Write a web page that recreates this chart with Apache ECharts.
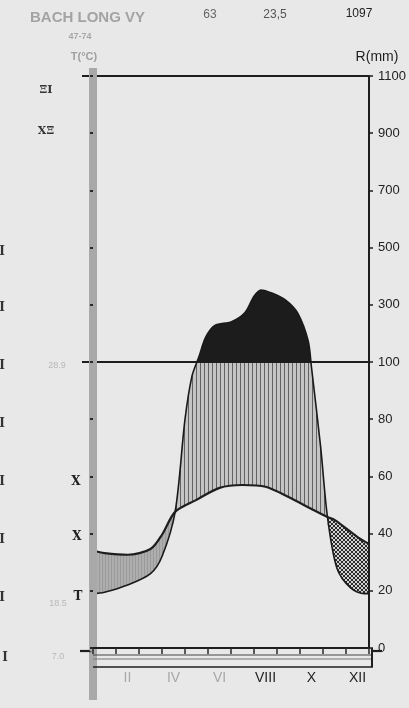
<!DOCTYPE html>
<html><head><meta charset="utf-8">
<script src="https://cdn.jsdelivr.net/npm/echarts@6/dist/echarts.min.js"></script>
<style>html,body{margin:0;padding:0;background:#e8e8e8;}#c{width:409px;height:708px;}</style>
</head><body><div id="c"></div>
<script>
// ---- data ----
const months = ['I','II','III','IV','V','VI','VII','VIII','IX','X','XI','XII'];
const station = 'BACH LONG VY';
const headerValues = ['63', '23,5', '1097'];
const period = '47-74';
// temperature (°C) at month positions (1 = middle of January)
const tempPos = [0.5, 1, 2, 3, 3.5, 4.07, 5, 6, 7, 8, 9, 10, 10.69, 11, 12, 12.5];
const tempC   = [17.0, 16.6, 16.3, 17.3, 19.8, 23.8, 25.9, 28.0, 28.5, 28.2, 26.4, 24.3, 22.9, 22.4, 19.4, 18.2];
// precipitation (mm) at month positions
const precipPos = [0.5, 1, 2, 3, 3.5, 4.07, 4.5, 4.8, 5.1, 5.4, 5.8, 6.5, 7.1, 7.5, 7.8, 8.3, 8.9, 9.4, 9.85, 10.0, 10.4, 10.69, 11.1, 11.7, 12.3, 12.5];
const precipMm  = [19, 19.5, 22, 26, 32, 47.6, 80, 95, 117, 187, 228, 240, 272, 330, 352, 340, 315, 271, 175, 98, 70, 46, 28, 21, 19, 19];
const dryLeftEnd = 4.07, dryRightStart = 10.69; // months where the curves cross
const precipTickLabels = ['0','20','40','60','80','100','300','500','700','900','1100'];

// R axis: linear to 100 mm, 1/10 scale above
function toAxis(mm){ return mm <= 100 ? mm : 100 + (mm - 100) / 10; }

const tempData = tempPos.map((m,i)=>[m, tempC[i]]);
const precipData = precipPos.map((m,i)=>[m, toAxis(precipMm[i])]);
const tempL = tempData.filter(d=>d[0] <= dryLeftEnd);
const tempR = tempData.filter(d=>d[0] >= dryRightStart);
const precL = precipData.filter(d=>d[0] <= dryLeftEnd);
const precR = precipData.filter(d=>d[0] >= dryRightStart);
const crossL = precipData.find(d=>d[0] === dryLeftEnd);
const crossR = precipData.find(d=>d[0] === dryRightStart);

const BG = '#e8e8e8';
function pattern(w,h,draw){const c=document.createElement('canvas');c.width=w;c.height=h;const g=c.getContext('2d');draw(g,w,h);return {image:c,repeat:'repeat'};}
const hatch = pattern(4,4,(g,w,h)=>{g.fillStyle='#c4c4c4';g.fillRect(0,0,w,h);g.fillStyle='#626262';g.fillRect(0,0,1,h);});
const grayFill = pattern(3,3,(g,w,h)=>{g.fillStyle='#aeaeae';g.fillRect(0,0,w,h);g.fillStyle='#9a9a9a';g.fillRect(0,0,1,h);});
const dots = pattern(4,4,(g,w,h)=>{g.fillStyle='#d2d2d2';g.fillRect(0,0,w,h);g.fillStyle='#2a2a2a';for(let i=0;i<4;i++){g.fillRect(i,i,1,1);g.fillRect(3-i,i,1,1);}});

const chart = echarts.init(document.getElementById('c'), null, {renderer:'canvas'});
const common = {type:'line', xAxisIndex:1, smooth:0.3, showSymbol:false, silent:true};
const noLine = {width:0, opacity:0};

chart.setOption({
  animation:false,
  backgroundColor: BG,
  grid:{left:93, right:37, top:76, bottom:60},
  xAxis:[
    {type:'category', data:months, position:'bottom', offset:3, boundaryGap:true, z:10,
     axisLine:{lineStyle:{color:'#1e1e1e', width:2.2}},
     axisTick:{show:true, interval:0, length:6, lineStyle:{color:'#2a2a2a', width:1.5}},
     axisLabel:{interval:(i)=>i%2===1, margin:20, fontSize:14, fontFamily:'Liberation Sans, Arial, sans-serif',
       color:(v,i)=> (['II','IV','VI'].indexOf(v)>=0 ? '#a8a8a8' : '#1e1e1e')},
     splitLine:{show:false}},
    {type:'value', min:0.5, max:12.5, show:false, splitLine:{show:false}}
  ],
  yAxis:[
    {type:'value', min:0, max:100, interval:10, position:'left', z:10,
     axisLine:{show:true, lineStyle:{color:'#a9a9a9', width:8}},
     axisTick:{show:true, length:3, lineStyle:{color:'#2a2a2a', width:2}},
     axisLabel:{show:false}, splitLine:{show:false}},
    {type:'value', min:0, max:200, interval:20, position:'right', z:10,
     axisLine:{show:true, lineStyle:{color:'#1e1e1e', width:2}},
     axisTick:{show:true, length:4, lineStyle:{color:'#1e1e1e', width:1.5}},
     axisLabel:{margin:9, align:'left', fontSize:13, color:'#222', fontFamily:'Liberation Sans, Arial, sans-serif',
       formatter:(v,i)=>precipTickLabels[i]},
     splitLine:{show:false}}
  ],
  visualMap:{type:'piecewise', show:false, seriesIndex:6, dimension:1,
    pieces:[{gt:100, lte:1000, color:'#1c1c1c'}], outOfRange:{color:'rgba(0,0,0,0)'}},
  series:[
    Object.assign({}, common, {name:'precipHatch', yAxisIndex:1, data:precipData, z:2, lineStyle:noLine, areaStyle:{color:hatch, opacity:1}}),
    Object.assign({}, common, {name:'tempMask', yAxisIndex:0, data:tempData, z:3, lineStyle:noLine, areaStyle:{color:BG, opacity:1}}),
    Object.assign({}, common, {name:'dryLeft', yAxisIndex:0, data:tempL, z:4, lineStyle:noLine, areaStyle:{color:grayFill, opacity:1}}),
    Object.assign({}, common, {name:'dryRight', yAxisIndex:0, data:tempR, z:4, lineStyle:noLine, areaStyle:{color:dots, opacity:1}}),
    Object.assign({}, common, {name:'maskL', yAxisIndex:1, data:precL, z:5, lineStyle:noLine, areaStyle:{color:BG, opacity:1}}),
    Object.assign({}, common, {name:'maskR', yAxisIndex:1, data:precR, z:5, lineStyle:noLine, areaStyle:{color:BG, opacity:1}}),
    Object.assign({}, common, {name:'precipWet', yAxisIndex:1, data:precipData, z:6, lineStyle:noLine, areaStyle:{opacity:1},
      markLine:{silent:true, symbol:['none','none'], label:{show:false}, lineStyle:{color:BG, width:2.5, type:'solid', opacity:1},
        data:[[{coord:[crossL[0],0]},{coord:[crossL[0],crossL[1]*0.93]}],[{coord:[crossR[0],0]},{coord:[crossR[0],crossR[1]*0.93]}]]}}),
    Object.assign({}, common, {name:'Temperature', yAxisIndex:0, data:tempData, z:7, lineStyle:{color:'#1e1e1e', width:2.2}}),
    Object.assign({}, common, {name:'Precipitation', yAxisIndex:1, data:precipData, z:7, lineStyle:{color:'#1a1a1a', width:1.6},
      markLine:{silent:true, symbol:['none','none'], label:{show:false}, lineStyle:{color:'#1e1e1e', width:2, type:'solid'},
        data:[{yAxis:100},{yAxis:200}]}})
  ],
  graphic:[
    {type:'text', left:30, top:10, style:{text:station, font:'bold 15px Liberation Sans, Arial', fill:'#a3a3a3'}},
    {type:'text', x:210, y:15, style:{text:headerValues[0], font:'12px Liberation Sans, Arial', fill:'#666', align:'center', verticalAlign:'middle'}},
    {type:'text', x:275, y:15, style:{text:headerValues[1], font:'12px Liberation Sans, Arial', fill:'#555', align:'center', verticalAlign:'middle'}},
    {type:'text', x:359, y:14, style:{text:headerValues[2], font:'12px Liberation Sans, Arial', fill:'#222', align:'center', verticalAlign:'middle'}},
    {type:'text', x:80, y:37, style:{text:period, font:'bold 9px Liberation Sans, Arial', fill:'#a8a8a8', align:'center', verticalAlign:'middle'}},
    {type:'text', x:84, y:57, style:{text:'T(°C)', font:'bold 11px Liberation Sans, Arial', fill:'#a0a0a0', align:'center', verticalAlign:'middle'}},
    {type:'text', x:377, y:57, style:{text:'R(mm)', font:'14px Liberation Sans, Arial', fill:'#1e1e1e', align:'center', verticalAlign:'middle'}},
    // left bar extensions and bottom frame
    {type:'rect', shape:{x:89, y:68, width:8, height:8}, style:{fill:'#a9a9a9'}},
    {type:'rect', shape:{x:89, y:648, width:8, height:52}, style:{fill:'#a9a9a9'}},
    {type:'line', shape:{x1:80, y1:651, x2:93, y2:651}, style:{stroke:'#1e1e1e', lineWidth:2.2}},
    {type:'line', shape:{x1:372, y1:651, x2:382, y2:651}, style:{stroke:'#1e1e1e', lineWidth:2.2}},
    {type:'line', shape:{x1:82, y1:76, x2:93, y2:76}, style:{stroke:'#1e1e1e', lineWidth:2}},
    {type:'line', shape:{x1:82, y1:362, x2:93, y2:362}, style:{stroke:'#1e1e1e', lineWidth:2}},
    {type:'line', shape:{x1:93, y1:655, x2:372, y2:655}, style:{stroke:'#444', lineWidth:1}},
    {type:'line', shape:{x1:93, y1:659, x2:372, y2:659}, style:{stroke:'#777', lineWidth:1}},
    {type:'line', shape:{x1:93, y1:667, x2:373, y2:667}, style:{stroke:'#1e1e1e', lineWidth:1.5}},
    {type:'line', shape:{x1:372, y1:648, x2:372, y2:667}, style:{stroke:'#1e1e1e', lineWidth:2}},
    // left side marks
    {type:'text', x:46, y:90, style:{text:'ΞI', font:'bold 11px DejaVu Serif', fill:'#333', align:'center', verticalAlign:'middle'}},
    {type:'text', x:46, y:131, style:{text:'XΞ', font:'bold 11px DejaVu Serif', fill:'#333', align:'center', verticalAlign:'middle'}},
    {type:'text', x:76, y:482, style:{text:'X', font:'bold 12px DejaVu Serif', fill:'#222', align:'center', verticalAlign:'middle'}},
    {type:'text', x:77, y:537, style:{text:'X', font:'bold 12px DejaVu Serif', fill:'#222', align:'center', verticalAlign:'middle'}},
    {type:'text', x:78, y:597, style:{text:'T', font:'bold 12px DejaVu Serif', fill:'#222', align:'center', verticalAlign:'middle'}},
    {type:'text', x:57, y:366, style:{text:'28.9', font:'9px Liberation Sans, Arial', fill:'#b8b8b8', align:'center', verticalAlign:'middle'}},
    {type:'text', x:58, y:604, style:{text:'18.5', font:'9px Liberation Sans, Arial', fill:'#b8b8b8', align:'center', verticalAlign:'middle'}},
    {type:'text', x:58, y:657, style:{text:'7.0', font:'9px Liberation Sans, Arial', fill:'#b8b8b8', align:'center', verticalAlign:'middle'}},
    {type:'text', x:2, y:252, style:{text:'I', font:'bold 12px DejaVu Serif', fill:'#333', align:'center', verticalAlign:'middle'}},
    {type:'text', x:2, y:308, style:{text:'I', font:'bold 12px DejaVu Serif', fill:'#333', align:'center', verticalAlign:'middle'}},
    {type:'text', x:2, y:366, style:{text:'I', font:'bold 12px DejaVu Serif', fill:'#333', align:'center', verticalAlign:'middle'}},
    {type:'text', x:2, y:424, style:{text:'I', font:'bold 12px DejaVu Serif', fill:'#333', align:'center', verticalAlign:'middle'}},
    {type:'text', x:2, y:482, style:{text:'I', font:'bold 12px DejaVu Serif', fill:'#333', align:'center', verticalAlign:'middle'}},
    {type:'text', x:2, y:540, style:{text:'I', font:'bold 12px DejaVu Serif', fill:'#333', align:'center', verticalAlign:'middle'}},
    {type:'text', x:2, y:598, style:{text:'I', font:'bold 12px DejaVu Serif', fill:'#333', align:'center', verticalAlign:'middle'}},
    {type:'text', x:5, y:658, style:{text:'I', font:'bold 12px DejaVu Serif', fill:'#333', align:'center', verticalAlign:'middle'}}
  ]
});
</script></body></html>
